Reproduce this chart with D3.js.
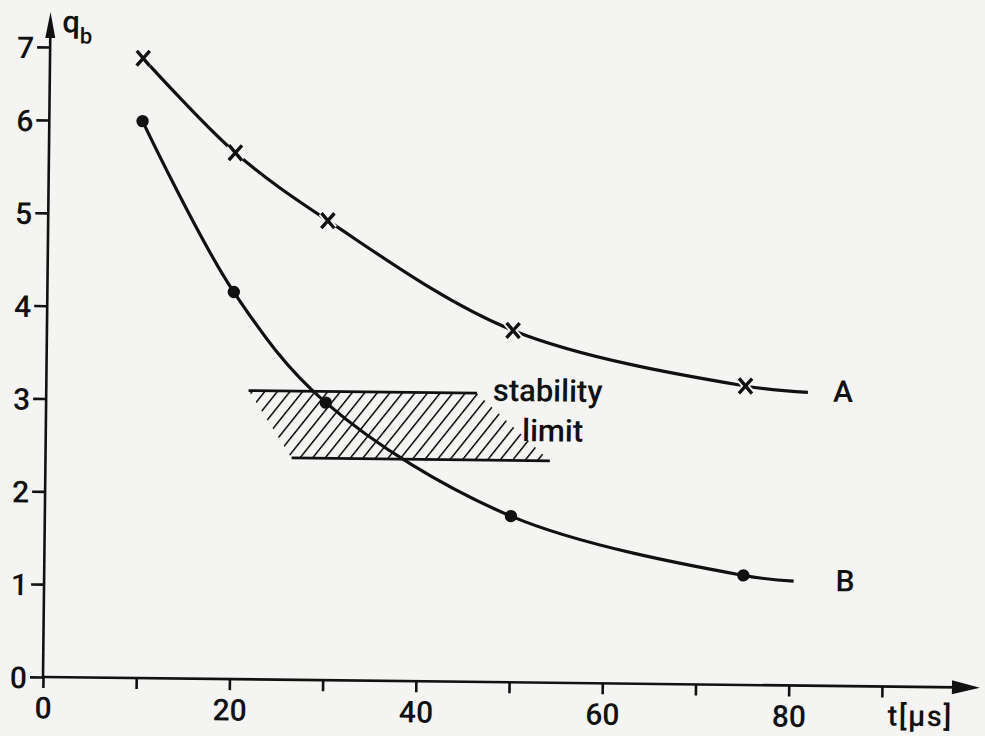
<!DOCTYPE html>
<html>
<head>
<meta charset="utf-8">
<script src="https://cdn.jsdelivr.net/npm/d3@7/dist/d3.min.js"></script>
<style>
  html, body { margin: 0; padding: 0; background: #f4f4f2; }
  svg { display: block; }
  text { font-family: Roboto, "DejaVu Sans", sans-serif; font-weight: 500; fill: #111; }
</style>
</head>
<body>
<svg id="chart" width="985" height="736"></svg>
<script>
// Breakdown charge q_b versus pulse time t, two electrode series
const tA = [10, 20, 30, 50, 75];
const qA = [6.86, 5.67, 4.95, 3.79, 3.22];
const tB = [10, 20, 30, 50, 75];
const qB = [6.0, 4.17, 2.99, 1.79, 1.18];
// where each fitted curve runs out past its last measurement
const curveEndA = [81.7, 3.16];
const curveEndB = [80.4, 1.125];

// stability limit band: [t start, t end, q]
const limitUpper = [21.7, 46.2, 3.11];
const limitLower = [26.4, 54.1, 2.39];

const xTicks = [0, 10, 20, 30, 40, 50, 60, 70, 80, 90];
const xLabelled = [0, 20, 40, 60, 80];
const yTicks = [0, 1, 2, 3, 4, 5, 6, 7];

const ink = "#111";
const paper = "#f4f4f2";
const svg = d3.select("#chart");

const x = d3.scaleLinear().domain([0, 90]).range([43, 882]);
// the 7 mark sits a little closer to 6 than the others on the printed axis
const y = d3.scaleLinear().domain([0, 6, 7]).range([677, 120, 47]);

// the whole figure is set slightly askew on the page
const g = svg.append("g").attr("transform", "rotate(0.65, 43, 677)");

const defs = svg.append("defs");
const hatch = defs.append("pattern")
  .attr("id", "hatch")
  .attr("patternUnits", "userSpaceOnUse")
  .attr("width", 12.5).attr("height", 40)
  .attr("patternTransform", "skewX(-38)");
hatch.append("line")
  .attr("x1", 3).attr("y1", -2).attr("x2", 3).attr("y2", 42)
  .attr("stroke", ink).attr("stroke-width", 2);

// axes
const xAxis = d3.axisBottom(x)
  .tickValues(xTicks)
  .tickFormat(d => xLabelled.includes(d) ? d : "")
  .tickSize(11).tickPadding(9);
const gx = g.append("g").attr("transform", `translate(0,${y(0)})`).call(xAxis);
gx.select(".domain").remove();
gx.selectAll(".tick line").attr("stroke", ink).attr("stroke-width", 2.6);
gx.selectAll(".tick text").attr("font-size", 30).attr("fill", ink);

const yAxis = d3.axisLeft(y).tickValues(yTicks).tickFormat(d3.format("d"))
  .tickSize(13).tickPadding(3);
const gy = g.append("g").attr("transform", `translate(${x(0)},0)`).call(yAxis);
gy.select(".domain").remove();
gy.selectAll(".tick line").attr("stroke", ink).attr("stroke-width", 2.6);
gy.selectAll(".tick text").attr("font-size", 30).attr("fill", ink).attr("dy", "0.36em");

// axis lines with arrowheads
g.append("line").attr("x1", x(0)).attr("y1", y(0)).attr("x2", 958).attr("y2", y(0))
  .attr("stroke", ink).attr("stroke-width", 2.6);
g.append("path").attr("d", `M952,${y(0) - 7}L980,${y(0)}L952,${y(0) + 7}Z`).attr("fill", ink);
g.append("line").attr("x1", x(0)).attr("y1", y(0)).attr("x2", x(0)).attr("y2", 30)
  .attr("stroke", ink).attr("stroke-width", 2.6);
g.append("path").attr("d", `M${x(0) - 5},38L${x(0)},12L${x(0) + 5},38Z`).attr("fill", ink);

// axis titles
const qLab = g.append("text").attr("x", x(0) + 12).attr("y", y(7) - 15).attr("font-size", 31);
qLab.append("tspan").text("q");
qLab.append("tspan").attr("font-size", 22).attr("dy", 11).text("b");
g.append("text").attr("x", x(90) + 6).attr("y", y(0) + 39).attr("font-size", 29)
  .attr("letter-spacing", 1.5).text("t[μs]");

// stability limit band
const band = [
  [limitUpper[0], limitUpper[2]], [limitUpper[1], limitUpper[2]],
  [limitLower[1], limitLower[2]], [limitLower[0], limitLower[2]]
];
g.append("path")
  .attr("d", "M" + band.map(p => [x(p[0]), y(p[1])].join(",")).join("L") + "Z")
  .attr("fill", "url(#hatch)");
[limitUpper, limitLower].forEach(l => {
  g.append("line")
    .attr("x1", x(l[0])).attr("x2", x(l[1]))
    .attr("y1", y(l[2])).attr("y2", y(l[2]))
    .attr("stroke", ink).attr("stroke-width", 2.8);
});
g.append("text").attr("x", x(47.9)).attr("y", y(3.03)).attr("font-size", 31).text("stability");
g.append("text").attr("x", x(51.1)).attr("y", y(2.6)).attr("font-size", 31).text("limit");

// curves
const line = d3.line().x(d => x(d[0])).y(d => y(d[1])).curve(d3.curveCatmullRom.alpha(0.5));
const ptsA = tA.map((t, i) => [t, qA[i]]);
const ptsB = tB.map((t, i) => [t, qB[i]]);
g.append("path").attr("d", line(ptsA.concat([curveEndA])))
  .attr("fill", "none").attr("stroke", ink).attr("stroke-width", 3.2);
g.append("path").attr("d", line(ptsB.concat([curveEndB])))
  .attr("fill", "none").attr("stroke", ink).attr("stroke-width", 3.2);

// series A: crosses
const cross = g.selectAll(".cross").data(ptsA).enter().append("g")
  .attr("transform", d => `translate(${x(d[0])},${y(d[1])})`);
const armPath = "M-6.5,-7.5L6.5,7.5M-6.5,7.5L6.5,-7.5";
cross.append("path").attr("d", armPath).attr("stroke", paper).attr("stroke-width", 7);
cross.append("path").attr("d", armPath).attr("stroke", ink).attr("stroke-width", 3.4);

// series B: dots
g.selectAll(".dot").data(ptsB).enter().append("circle")
  .attr("cx", d => x(d[0])).attr("cy", d => y(d[1])).attr("r", 6.2).attr("fill", ink);

// series names
g.append("text").attr("x", x(84.4)).attr("y", y(3.06)).attr("font-size", 30).text("A");
g.append("text").attr("x", x(84.9)).attr("y", y(1.02)).attr("font-size", 30).text("B");
</script>
</body>
</html>
